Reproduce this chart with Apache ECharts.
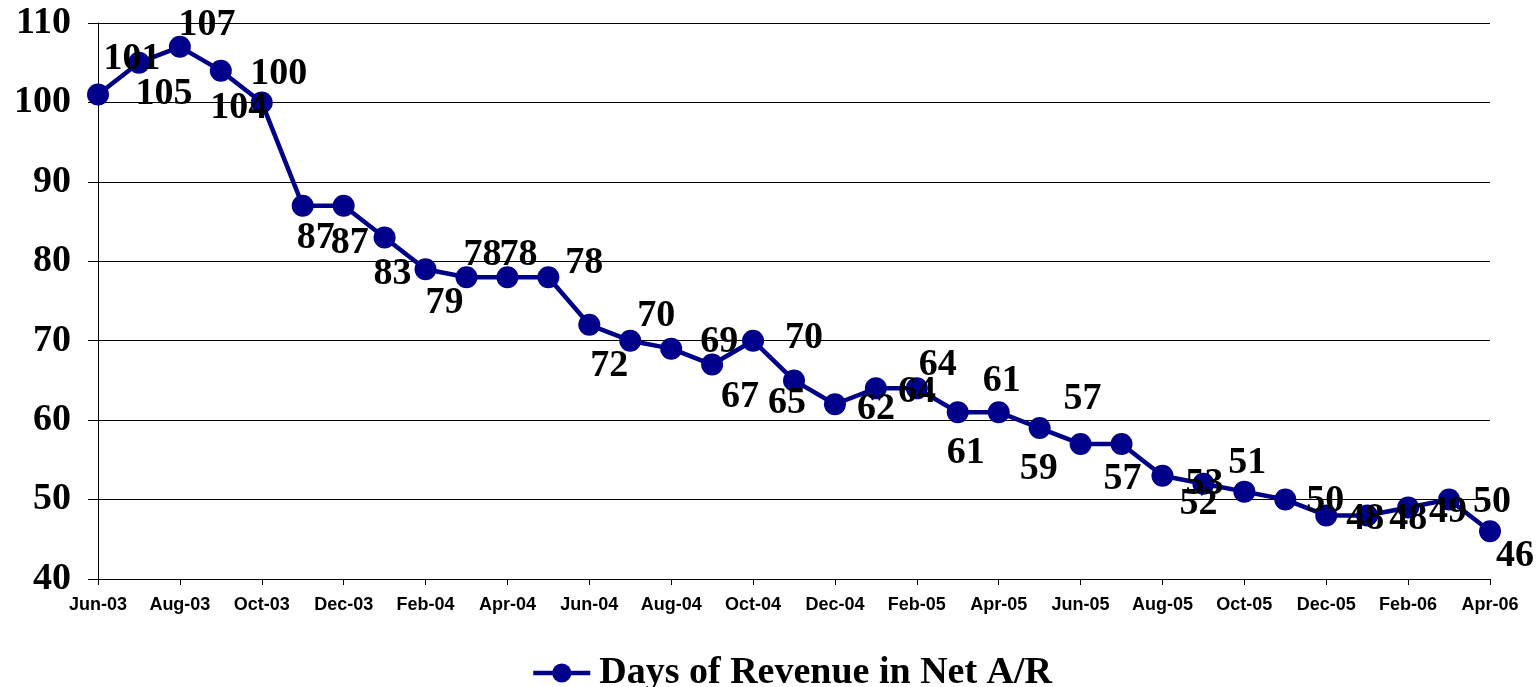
<!DOCTYPE html>
<html>
<head>
<meta charset="utf-8">
<script src="https://cdn.jsdelivr.net/npm/echarts@6/dist/echarts.min.js"></script>
<style>
  html, body { margin: 0; padding: 0; background: #fff; }
  #chart { width: 1539px; height: 687px; }
</style>
</head>
<body>
<div id="chart"></div>
<script>
// months, Jun-03 .. Apr-06
var months = ['Jun-03','Jul-03','Aug-03','Sep-03','Oct-03','Nov-03','Dec-03',
  'Jan-04','Feb-04','Mar-04','Apr-04','May-04','Jun-04','Jul-04','Aug-04','Sep-04','Oct-04','Nov-04','Dec-04',
  'Jan-05','Feb-05','Mar-05','Apr-05','May-05','Jun-05','Jul-05','Aug-05','Sep-05','Oct-05','Nov-05','Dec-05',
  'Jan-06','Feb-06','Mar-06','Apr-06'];

// days of revenue in net A/R
var daysAR = [101,105,107,104,100,87,87,83,79,78,78,78,72,70,69,67,70,65,62,64,64,61,61,59,57,57,53,52,51,50,48,48,49,50,46];

var seriesName = 'Days of Revenue in Net A/R';

// label placement around each point (px from the dot centre), as in the excel chart
var labelOffsets = [[34,-35],[25,31],[27,-22],[18,38],[17,-28],[13,33],[6,38],[8,37],[19,34],[16,-22],
  [11,-22],[36,-14],[20,41],[26,-25],[48,-6],[28,33],[51,-3],[-7,23],[41,5],[41,4],
  [21,-23],[8,41],[3,-31],[-1,41],[2,-45],[1,35],[42,8],[-5,21],[3,-28],[40,2],
  [39,4],[41,4],[40,5],[43,3],[25,25]];

var navy = '#00008B';
var serif = '"Liberation Serif", "Times New Roman", serif';
var dotSize = 22;

var points = [];
for (var i = 0; i < daysAR.length; i++) {
  // position is relative to the symbol box, so add half the dot size
  points.push({
    value: daysAR[i],
    label: { position: [dotSize / 2 + labelOffsets[i][0], dotSize / 2 + labelOffsets[i][1]] }
  });
}

var myChart = echarts.init(document.getElementById('chart'));
var option = {
  animation: false,
  grid: { left: 98, right: 49, top: 23, bottom: 108, containLabel: false },
  legend: {
    data: [seriesName],
    left: 526,
    top: 648,
    itemWidth: 57,
    itemHeight: 24,
    lineStyle: { width: 4.5 },
    textStyle: { fontFamily: serif, fontWeight: 'bold', fontSize: 38, color: '#000', lineHeight: 40, padding: [0, 0, 0, 4] }
  },
  xAxis: {
    type: 'category',
    data: months,
    boundaryGap: false,
    axisLine: { lineStyle: { color: '#000', width: 1 } },
    axisTick: { show: true, interval: 1, length: 6, lineStyle: { color: '#000' } },
    axisLabel: {
      interval: 1,
      margin: 17,
      fontFamily: '"Liberation Sans", Arial, sans-serif',
      fontWeight: 'bold',
      fontSize: 18,
      color: '#000'
    },
    splitLine: { show: false }
  },
  yAxis: {
    type: 'value',
    min: 40,
    max: 110,
    interval: 10,
    axisLine: { show: true, lineStyle: { color: '#000', width: 1 } },
    axisTick: { show: true, length: 10, lineStyle: { color: '#000' } },
    axisLabel: { margin: 27, fontFamily: serif, fontWeight: 'bold', fontSize: 38, color: '#000', padding: [8, 0, 0, 0] },
    splitLine: { show: true, lineStyle: { color: '#000', width: 1 } }
  },
  series: [{
    name: seriesName,
    type: 'line',
    data: points,
    symbol: 'circle',
    symbolSize: dotSize,
    lineStyle: { color: navy, width: 4.5 },
    itemStyle: { color: navy },
    label: {
      show: true,
      align: 'center',
      verticalAlign: 'middle',
      fontFamily: serif,
      fontWeight: 'bold',
      fontSize: 38,
      color: '#000'
    },
    labelLayout: { hideOverlap: false }
  }]
};
myChart.setOption(option);
</script>
</body>
</html>
